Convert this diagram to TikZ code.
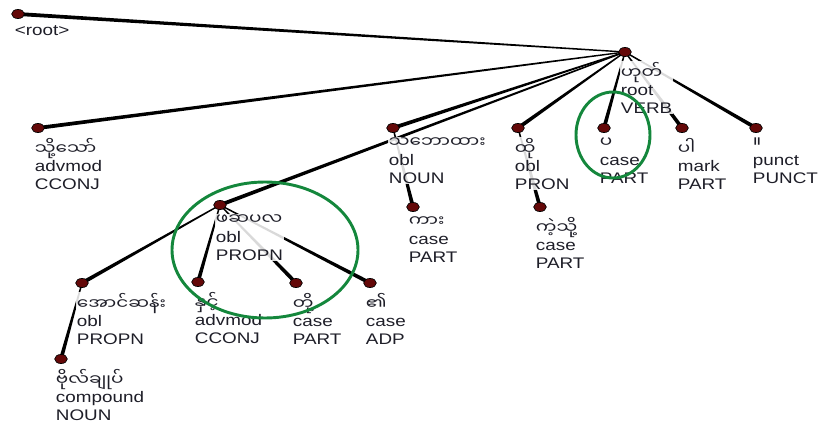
\documentclass[tikz,border=0pt]{standalone}
\usepackage{fontspec}
\usetikzlibrary{calc,shapes.geometric}
\setmainfont{Liberation Sans}[FakeStretch=1.23]
\newfontfamily\my[Script=Myanmar,FakeStretch=1.2]{Noto Sans Myanmar UI}
\definecolor{dotred}{RGB}{100,8,8}
\definecolor{ringgreen}{RGB}{20,135,60}
\definecolor{txt}{RGB}{30,30,40}
\newcommand\lblfont{\fontsize{11.5pt}{13.3pt}\selectfont}
\newcommand\tedge[2]{\fill[black] ($(#1.center)!0.5pt!90:(#2.center)$) -- ($(#2.center)!1.45pt!-90:(#1.center)$) -- ($(#2.center)!1.45pt!90:(#1.center)$) -- ($(#1.center)!0.5pt!-90:(#2.center)$) -- cycle;}
\begin{document}
\begin{tikzpicture}[x=0.75pt,y=-0.75pt,
  dot/.style={ellipse,draw=black,line width=0.5pt,fill=dotred,minimum width=9.5pt,minimum height=6.8pt,inner sep=0pt},
  lbl/.style={anchor=north west,inner sep=0.5pt,fill=white,fill opacity=0.85,text opacity=1,align=left,font=\lblfont,text=txt},
  ring/.style={draw=ringgreen,line width=2.2pt}]
\useasboundingbox (0,0) rectangle (818,424);
% dot positions
\path
  (18,14)  coordinate (cdummy)
  (625,52) coordinate (chut)
  (38,128) coordinate (cthoth)
  (393,128) coordinate (cthabaw)
  (518,128) coordinate (chtoe)
  (604,128) coordinate (cpa)
  (682,128) coordinate (cpar)
  (756,128) coordinate (cpun)
  (413,207) coordinate (ckar)
  (540,207) coordinate (ckel)
  (220,205) coordinate (cfsp)
  (198,282) coordinate (chnin)
  (296,283) coordinate (ctoh)
  (370,283) coordinate (cei)
  (82,283) coordinate (caung)
  (61,359) coordinate (cbog);
\foreach \n in {dummy,hut,thoth,thabaw,htoe,pa,par,pun,kar,kel,fsp,hnin,toh,ei,aung,bog}
  \node[inner sep=0pt,minimum size=0pt] (\n) at (c\n) {};
% edges
\tedge{hut}{dummy}
\tedge{hut}{thoth}
\tedge{hut}{thabaw}
\tedge{hut}{htoe}
\tedge{hut}{pa}
\tedge{hut}{par}
\tedge{hut}{pun}
\tedge{hut}{fsp}
\tedge{thabaw}{kar}
\tedge{htoe}{kel}
\tedge{fsp}{aung}
\tedge{fsp}{hnin}
\tedge{fsp}{toh}
\tedge{fsp}{ei}
\tedge{aung}{bog}
% labels
\node[lbl] (ldummy) at ($(cdummy)+(-4,11)$) {<root>};
\node[lbl] (lhut) at ($(chut)+(-5,9)$) {{\my ဟုတ်}\\root\\VERB};
\node[lbl] (lthoth) at ($(cthoth)+(-4,9)$) {{\my သို့သော်}\\advmod\\CCONJ};
\node[lbl] (lthabaw) at ($(cthabaw)+(-5,9)$) {{\my သဘောထား}\\obl\\NOUN};
\node[lbl] (lhtoe) at ($(chtoe)+(-4,9)$) {{\my ထို}\\obl\\PRON};
\node[lbl] (lpa) at ($(cpa)+(-5,9)$) {{\my ပ}\\case\\PART};
\node[lbl] (lpar) at ($(cpar)+(-5,9)$) {{\my ပါ}\\mark\\PART};
\node[lbl] (lpun) at ($(cpun)+(-4,9)$) {{\my ။}\\punct\\PUNCT};
\node[lbl] (lkar) at ($(ckar)+(-5,9)$) {{\my ကား}\\case\\PART};
\node[lbl] (lkel) at ($(ckel)+(-5,9)$) {{\my ကဲ့သို့}\\case\\PART};
\node[lbl] (lfsp) at ($(cfsp)+(-5,9)$) {{\my ဖဆပလ}\\obl\\PROPN};
\node[lbl] (lhnin) at ($(chnin)+(-4,9)$) {{\my နှင့်}\\advmod\\CCONJ};
\node[lbl] (ltoh) at ($(ctoh)+(-4,9)$) {{\my တို့}\\case\\PART};
\node[lbl] (lei) at ($(cei)+(-5,9)$) {{\my ၏}\\case\\ADP};
\node[lbl] (laung) at ($(caung)+(-6,9)$) {{\my အောင်ဆန်း}\\obl\\PROPN};
\node[lbl] (lbog) at ($(cbog)+(-6,9)$) {{\my ဗိုလ်ချုပ်}\\compound\\NOUN};
% dots on top
\foreach \n in {dummy,hut,thoth,thabaw,htoe,pa,par,pun,kar,kel,fsp,hnin,toh,ei,aung,bog}
  \node[dot] at (c\n) {};
% highlight rings
\draw[ring] (265,250) ellipse [x radius=93, y radius=68];
\draw[ring] (613,135) ellipse [x radius=37, y radius=43];
\end{tikzpicture}
\end{document}
